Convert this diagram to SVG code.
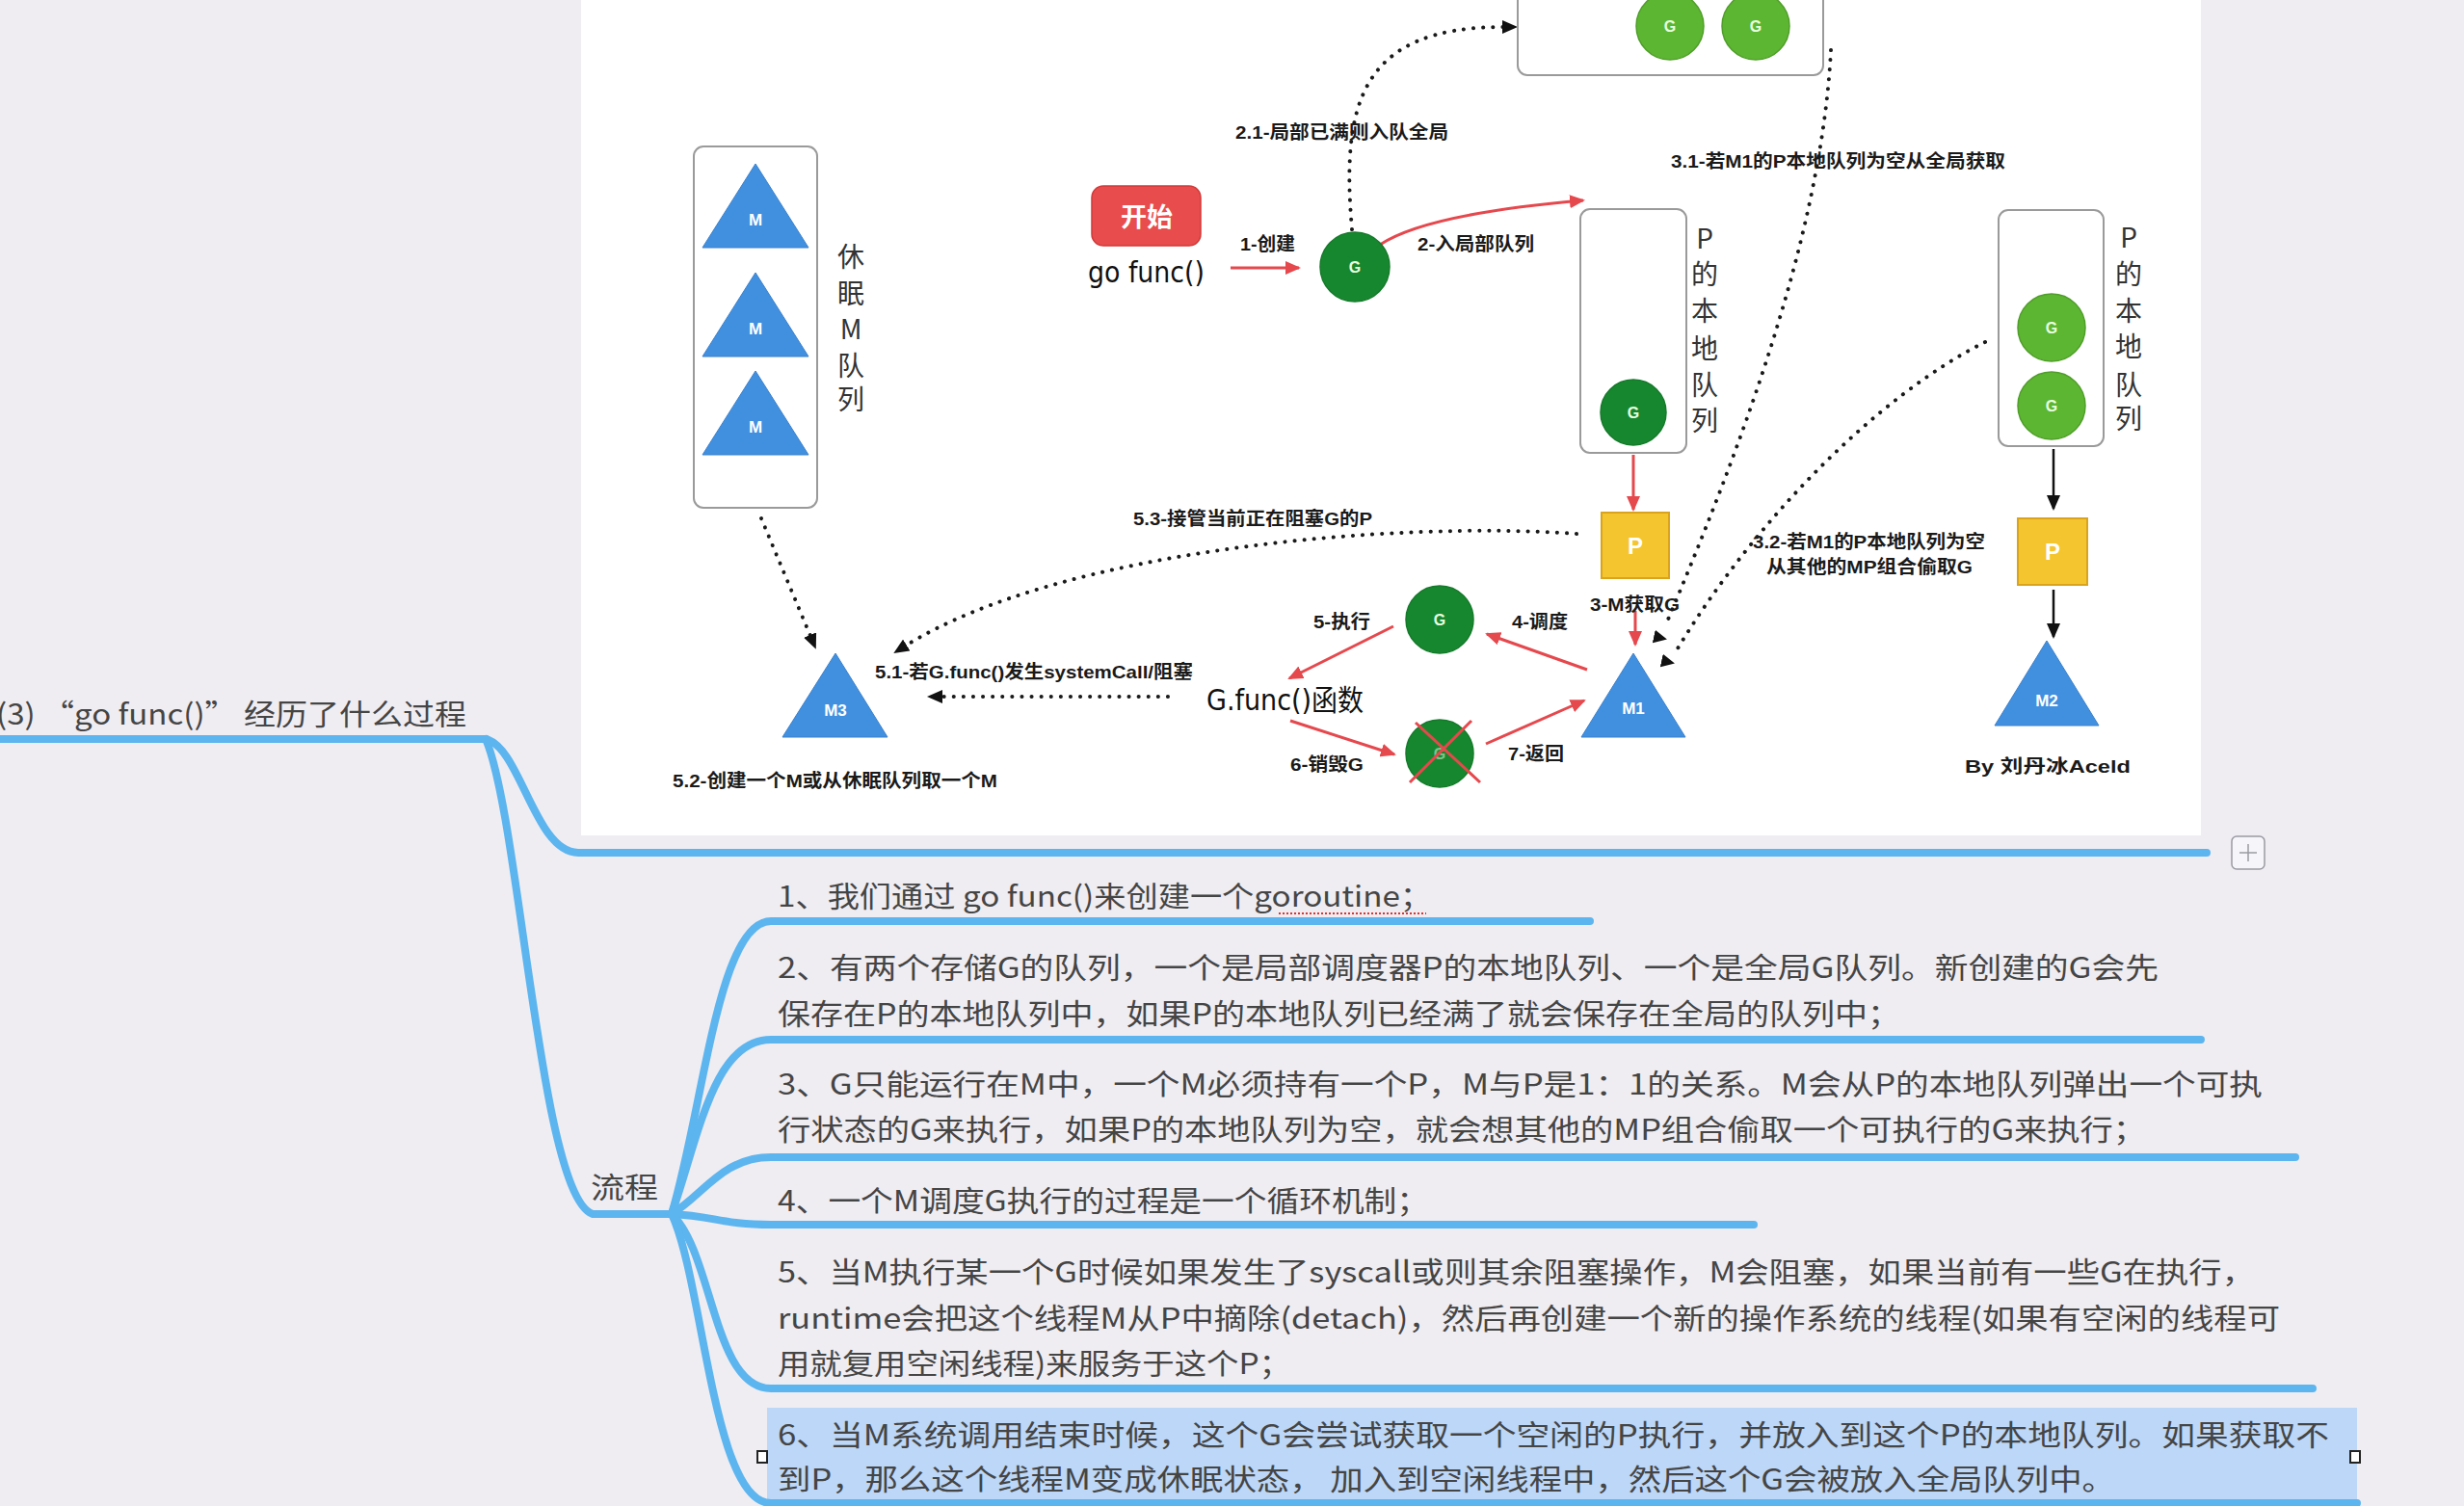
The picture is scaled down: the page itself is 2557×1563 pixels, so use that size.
<svg xmlns="http://www.w3.org/2000/svg" width="2557" height="1563" viewBox="0 0 2557 1563">
<style>
.lbl{font-family:"Liberation Sans","Noto Sans CJK SC",sans-serif;font-weight:bold;font-size:19px;fill:#1a1a1a}
.vt{font-family:"Noto Sans CJK SC",sans-serif;font-size:28px;fill:#333;text-anchor:middle}
.tri{fill:#4190e0;stroke:#3a80cc;stroke-width:1}
.tl{font-family:"Liberation Sans",sans-serif;font-weight:bold;font-size:17px;fill:#fff;text-anchor:middle}
.gd{fill:#17872f;stroke:#147a2a;stroke-width:1.5}
.gl{fill:#5db631;stroke:#4f9e2a;stroke-width:1.5}
.gt{font-family:"Liberation Sans",sans-serif;font-weight:bold;font-size:16px;fill:#e8ffe0;text-anchor:middle}
.pbox{fill:#f5c530;stroke:#d9a41c;stroke-width:2}
.pt{font-family:"Liberation Sans",sans-serif;font-weight:bold;font-size:24px;fill:#fff;text-anchor:middle}
.box{fill:#fff;stroke:#9a9a9a;stroke-width:2}
.red{stroke:#e5484d;stroke-width:3;fill:none;marker-end:url(#arrRed)}
.blk{stroke:#111;stroke-width:2.5;fill:none;marker-end:url(#arrBlk)}
.dot{stroke:#1a1a1a;stroke-width:4;fill:none;stroke-dasharray:0.1 10;stroke-linecap:round}
.mm{font-family:"Noto Sans CJK SC","Liberation Sans",sans-serif;font-size:30px;fill:#454545}
.br{stroke:#5db5ef;stroke-width:8;fill:none;stroke-linecap:round}
.hand{font-family:"DejaVu Sans","Noto Sans CJK SC",sans-serif;font-size:30px;fill:#111}
</style>
<defs>
<marker id="arrRed" markerUnits="userSpaceOnUse" markerWidth="16" markerHeight="14" refX="14" refY="7" orient="auto"><path d="M0,0 L16,7 L0,14 z" fill="#e5484d"/></marker>
<marker id="arrBlk" markerUnits="userSpaceOnUse" markerWidth="16" markerHeight="14" refX="14" refY="7" orient="auto"><path d="M0,0 L16,7 L0,14 z" fill="#111"/></marker>
<marker id="arrBlkR" markerUnits="userSpaceOnUse" markerWidth="16" markerHeight="16" refX="12" refY="8" orient="12"><path d="M0,1 L14,8 L0,15 z" fill="#111"/></marker>
</defs>

<rect x="0" y="0" width="2557" height="1563" fill="#efedf2"/>
<rect x="603" y="0" width="1681" height="867" fill="#ffffff"/>

<!-- mind map -->
<g id="mindmap-lines">
<rect x="796" y="1461" width="1650" height="110" fill="#bcd7f7"/>
<path class="br" d="M-10,767 L504,767"/>
<path class="br" d="M504,767 C540,775 555,885 600,885 L2290,885"/>
<path class="br" d="M504,767 C540,850 560,1240 615,1260 L697,1260"/>
<path class="br" d="M697,1260 C730,1150 745,956 800,956 L1650,956"/>
<path class="br" d="M697,1260 C725,1180 740,1079 800,1079 L2284,1079"/>
<path class="br" d="M697,1260 C730,1240 750,1201 800,1201 L2382,1201"/>
<path class="br" d="M697,1260 C740,1262 750,1271 800,1271 L1820,1271"/>
<path class="br" d="M697,1260 C740,1300 740,1441 800,1441 L2400,1441"/>
<path class="br" d="M697,1260 C730,1330 740,1560 800,1560 L2446,1560"/>
</g>
<g id="plus-button">
<rect x="2316" y="868" width="34" height="34" rx="5" fill="#f6f5f9" stroke="#9a9aa2" stroke-width="1.5"/>
<path d="M2333,876 L2333,894 M2324,885 L2342,885" stroke="#9a9aa2" stroke-width="1.5"/>
</g>
<g id="root-node"><text class="mm" x="-4" y="752" font-size="34" textLength="488" lengthAdjust="spacingAndGlyphs">(3) “go func()” 经历了什么过程</text></g>
<g id="flow-node"><text class="mm" x="613" y="1243" font-size="32" textLength="70" lengthAdjust="spacingAndGlyphs">流程</text></g>
<g id="item1">
<text class="mm" x="807" y="941" textLength="679" lengthAdjust="spacingAndGlyphs">1、我们通过 go func()来创建一个goroutine；</text>
<path d="M1327,948 L1480,948" stroke="#e03030" stroke-width="2" stroke-dasharray="2 2"/>
</g>
<g id="item2">
<text class="mm" x="807" y="1015" textLength="1433" lengthAdjust="spacingAndGlyphs">2、有两个存储G的队列，一个是局部调度器P的本地队列、一个是全局G队列。新创建的G会先</text>
<text class="mm" x="807" y="1063" textLength="1165" lengthAdjust="spacingAndGlyphs">保存在P的本地队列中，如果P的本地队列已经满了就会保存在全局的队列中；</text>
</g>
<g id="item3">
<text class="mm" x="807" y="1136" textLength="1541" lengthAdjust="spacingAndGlyphs">3、G只能运行在M中，一个M必须持有一个P，M与P是1：1的关系。M会从P的本地队列弹出一个可执</text>
<text class="mm" x="807" y="1183" textLength="1420" lengthAdjust="spacingAndGlyphs">行状态的G来执行，如果P的本地队列为空，就会想其他的MP组合偷取一个可执行的G来执行；</text>
</g>
<g id="item4">
<text class="mm" x="807" y="1257" textLength="676" lengthAdjust="spacingAndGlyphs">4、一个M调度G执行的过程是一个循环机制；</text>
</g>
<g id="item5">
<text class="mm" x="807" y="1331" textLength="1533" lengthAdjust="spacingAndGlyphs">5、当M执行某一个G时候如果发生了syscall或则其余阻塞操作，M会阻塞，如果当前有一些G在执行，</text>
<text class="mm" x="807" y="1379" textLength="1559" lengthAdjust="spacingAndGlyphs">runtime会把这个线程M从P中摘除(detach)，然后再创建一个新的操作系统的线程(如果有空闲的线程可</text>
<text class="mm" x="807" y="1426" textLength="533" lengthAdjust="spacingAndGlyphs">用就复用空闲线程)来服务于这个P；</text>
</g>
<g id="item6">
<text class="mm" x="807" y="1500" textLength="1610" lengthAdjust="spacingAndGlyphs">6、当M系统调用结束时候，这个G会尝试获取一个空闲的P执行，并放入到这个P的本地队列。如果获取不</text>
<text class="mm" x="807" y="1546" textLength="1388" lengthAdjust="spacingAndGlyphs">到P，那么这个线程M变成休眠状态， 加入到空闲线程中，然后这个G会被放入全局队列中。</text>
<rect x="786" y="1506" width="10" height="12" fill="#fff" stroke="#222" stroke-width="2"/>
<rect x="2439" y="1506" width="10" height="12" fill="#fff" stroke="#222" stroke-width="2"/>
</g>

<!-- diagram connectors -->
<g id="connectors">
<path class="red" d="M1277,278 L1348,278"/>
<path class="red" d="M1432,254 Q1480,222 1643,208"/>
<path class="red" d="M1695,472 L1695,529"/>
<path class="red" d="M1697,634 L1697,669"/>
<path class="red" d="M1647,695 L1543,658"/>
<path class="red" d="M1446,650 L1338,704"/>
<path class="red" d="M1339,748 L1447,783"/>
<path class="red" d="M1542,772 L1644,727"/>
<path class="blk" d="M2131,466 L2131,528"/>
<path class="blk" d="M2131,612 L2131,661"/>
<path class="dot" d="M1403,238 C1392,110 1410,28 1560,28"/>
<path d="M1560,28 L1573,28" stroke="none" fill="none" marker-end="url(#arrBlk)"/>
<path class="dot" d="M1900,52 C1890,250 1800,480 1728,650"/>
<path d="M1716,661 L1728,663" stroke="none" fill="none" marker-end="url(#arrBlkR)"/>
<path class="dot" d="M2060,355 C1950,410 1820,540 1738,678"/>
<path d="M1724,686 L1736,688" stroke="none" fill="none" marker-end="url(#arrBlkR)"/>
<path class="dot" d="M1636,554 C1450,540 1100,570 940,670"/>
<path d="M940,670 L929,677" stroke="none" fill="none" marker-end="url(#arrBlk)"/>
<path class="dot" d="M1212,723 L976,723"/>
<path d="M976,723 L964,723" stroke="none" fill="none" marker-end="url(#arrBlk)"/>
<path class="dot" d="M790,538 L841,660"/>
<path d="M841,660 L846,672" stroke="none" fill="none" marker-end="url(#arrBlk)"/>
</g>

<!-- connector labels -->
<g id="labels">
<text class="lbl" x="1287" y="260" textLength="57" lengthAdjust="spacingAndGlyphs">1-创建</text>
<text class="lbl" x="1471" y="260" textLength="121" lengthAdjust="spacingAndGlyphs">2-入局部队列</text>
<text class="lbl" x="1282" y="144" textLength="221" lengthAdjust="spacingAndGlyphs">2.1-局部已满则入队全局</text>
<text class="lbl" x="1734" y="174" textLength="347" lengthAdjust="spacingAndGlyphs">3.1-若M1的P本地队列为空从全局获取</text>
<text class="lbl" x="1176" y="545" textLength="248" lengthAdjust="spacingAndGlyphs">5.3-接管当前正在阻塞G的P</text>
<text class="lbl" x="1819" y="569" textLength="241" lengthAdjust="spacingAndGlyphs">3.2-若M1的P本地队列为空</text>
<text class="lbl" x="1833" y="595" textLength="214" lengthAdjust="spacingAndGlyphs">从其他的MP组合偷取G</text>
<text class="lbl" x="1650" y="634" textLength="93" lengthAdjust="spacingAndGlyphs">3-M获取G</text>
<text class="lbl" x="1363" y="652" textLength="59" lengthAdjust="spacingAndGlyphs">5-执行</text>
<text class="lbl" x="1569" y="652" textLength="58" lengthAdjust="spacingAndGlyphs">4-调度</text>
<text class="lbl" x="1339" y="800" textLength="76" lengthAdjust="spacingAndGlyphs">6-销毁G</text>
<text class="lbl" x="1565" y="789" textLength="58" lengthAdjust="spacingAndGlyphs">7-返回</text>
<text class="lbl" x="908" y="704" textLength="330" lengthAdjust="spacingAndGlyphs">5.1-若G.func()发生systemCall/阻塞</text>
<text class="lbl" x="698" y="817" textLength="337" lengthAdjust="spacingAndGlyphs">5.2-创建一个M或从休眠队列取一个M</text>
</g>

<!-- nodes -->
<g id="sleep-queue">
<rect class="box" x="720" y="152" width="128" height="375" rx="10"/>
<polygon class="tri" points="784,170 729,257 839,257"/><text class="tl" x="784" y="234">M</text>
<polygon class="tri" points="784,283 729,370 839,370"/><text class="tl" x="784" y="347">M</text>
<polygon class="tri" points="784,385 729,472 839,472"/><text class="tl" x="784" y="449">M</text>
<text class="vt" x="883" y="277">休</text>
<text class="vt" x="883" y="315">眠</text>
<text class="vt" x="883" y="352">M</text>
<text class="vt" x="883" y="390">队</text>
<text class="vt" x="883" y="425">列</text>
</g>
<g id="start">
<rect x="1133" y="193" width="113" height="62" rx="12" fill="#e84c4c" stroke="#d03a3a" stroke-width="1.5"/>
<text x="1190" y="235" font-family="Noto Sans CJK SC,sans-serif" font-size="27" font-weight="bold" fill="#fff" text-anchor="middle">开始</text>
<text class="hand" x="1129" y="293" textLength="121" lengthAdjust="spacingAndGlyphs">go func()</text>
</g>
<g id="g-new"><circle class="gd" cx="1406" cy="277" r="36"/><text class="gt" x="1406" y="283">G</text></g>
<g id="global-queue">
<rect class="box" x="1575" y="-20" width="317" height="98" rx="10"/>
<circle class="gl" cx="1733" cy="27" r="35"/><text class="gt" x="1733" y="33">G</text>
<circle class="gl" cx="1822" cy="27" r="35"/><text class="gt" x="1822" y="33">G</text>
</g>
<g id="p1-queue">
<rect class="box" x="1640" y="217" width="110" height="253" rx="10"/>
<circle class="gd" cx="1695" cy="428" r="34"/><text class="gt" x="1695" y="434">G</text>
<text class="vt" x="1769" y="258">P</text>
<text class="vt" x="1769" y="295">的</text>
<text class="vt" x="1769" y="333">本</text>
<text class="vt" x="1769" y="372">地</text>
<text class="vt" x="1769" y="410">队</text>
<text class="vt" x="1769" y="447">列</text>
</g>
<g id="p1"><rect class="pbox" x="1662" y="532" width="70" height="68"/><text class="pt" x="1697" y="575">P</text></g>
<g id="m1"><polygon class="tri" points="1695,678 1641,765 1749,765"/><text class="tl" x="1695" y="741">M1</text></g>
<g id="p2-queue">
<rect class="box" x="2074" y="218" width="109" height="245" rx="10"/>
<circle class="gl" cx="2129" cy="340" r="35"/><text class="gt" x="2129" y="346">G</text>
<circle class="gl" cx="2129" cy="421" r="35"/><text class="gt" x="2129" y="427">G</text>
<text class="vt" x="2209" y="257">P</text>
<text class="vt" x="2209" y="295">的</text>
<text class="vt" x="2209" y="333">本</text>
<text class="vt" x="2209" y="370">地</text>
<text class="vt" x="2209" y="410">队</text>
<text class="vt" x="2209" y="445">列</text>
</g>
<g id="p2"><rect class="pbox" x="2094" y="538" width="72" height="69"/><text class="pt" x="2130" y="581">P</text></g>
<g id="m2"><polygon class="tri" points="2124,665 2070,753 2178,753"/><text class="tl" x="2124" y="733">M2</text></g>
<g id="m3"><polygon class="tri" points="867,678 812,765 921,765"/><text class="tl" x="867" y="743">M3</text></g>
<g id="g-run"><circle class="gd" cx="1494" cy="643" r="35"/><text class="gt" x="1494" y="649">G</text></g>
<g id="g-dead"><circle class="gd" cx="1494" cy="782" r="35"/><text class="gt" x="1494" y="788" opacity="0.5">G</text>
<path d="M1463,812 L1527,748 M1469,750 L1536,812" stroke="#e5484d" stroke-width="3"/></g>
<g id="gfunc">
<text class="hand" x="1252" y="737" font-size="28" fill="#222" textLength="163" lengthAdjust="spacingAndGlyphs">G.func()函数</text>
</g>
<g id="author"><text class="lbl" x="2039" y="802" font-size="24" textLength="172" lengthAdjust="spacingAndGlyphs">By 刘丹冰Aceld</text></g>
</svg>
